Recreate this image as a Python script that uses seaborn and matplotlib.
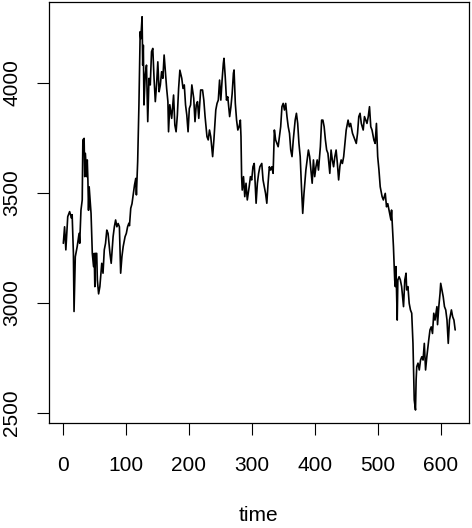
import matplotlib
matplotlib.use("Agg")
import matplotlib.pyplot as plt
import seaborn as sns
import pandas as pd

time = [1, 3, 5, 8, 11, 14, 15, 17, 18, 20, 23, 26, 27, 29, 31, 32, 34, 35, 36, 38,
        39, 40, 41, 42, 45, 47, 49, 50, 51, 52, 54, 55, 57, 59, 62, 64, 66, 68, 70, 72,
        73, 75, 77, 80, 82, 84, 86, 88, 90, 92, 94, 96, 99, 101, 103, 105,
        106, 108, 110, 114, 116, 117, 119, 121, 123, 124, 126, 127, 128, 129, 131, 133, 135, 137,
        139, 141, 143, 145, 147, 149, 151, 153, 155, 157, 159, 161, 163, 165, 167, 168, 170, 173,
        176, 178, 180, 182, 184, 186, 189, 191, 193, 195, 197, 199, 201, 203, 205, 208, 210, 212,
        214, 216, 219, 222, 224, 226, 229, 231, 233, 235, 238, 240, 243, 245, 247, 249, 251, 253,
        255, 256, 258, 260, 262, 265, 267, 269, 271, 272, 274, 276, 278, 280, 282, 283, 284, 285,
        287, 289, 291, 293, 296, 298, 300, 302, 304, 305, 307, 309, 311, 313, 316, 318, 320, 322,
        324, 326, 328, 330, 332, 334, 336, 338, 340, 342, 344, 346, 348, 350, 352, 354, 356, 358,
        360, 362, 364, 366, 369, 371, 373, 375, 377, 379, 381, 383, 386, 388, 390, 392, 394, 396,
        398, 400, 402, 404, 406, 409, 411, 413, 415, 417, 419, 421, 424, 426, 428, 430, 432, 434,
        436, 438, 440, 442, 444, 446, 448, 450, 453, 455, 457, 460, 462, 464, 466, 468, 470, 472,
        474, 477, 479, 481, 483, 485, 487, 489, 491, 494, 496, 498, 500, 502, 504, 507, 509, 512,
        514, 516, 519, 521, 522, 525, 527, 528, 529, 531, 532, 534, 536, 538, 541, 543, 545, 546,
        548, 550, 552, 554, 556, 558, 560, 561, 562, 564, 566, 568, 570, 572, 574, 576, 578, 581,
        583, 585, 587, 589, 591, 594, 595, 597, 599, 600, 602, 604, 606, 608, 610, 612, 614, 617,
        619, 621, 623]

value = [3270, 3345, 3240, 3391, 3414, 3384, 3400, 3224, 2960, 3209, 3255, 3315, 3270, 3421, 3467, 3740, 3747, 3573, 3679, 3573,
         3649, 3558, 3420, 3527, 3406, 3224, 3164, 3224, 3073, 3224, 3224, 3103, 3040, 3073, 3179, 3134, 3240, 3270, 3330, 3315,
         3285, 3224, 3179, 3300, 3345, 3376, 3345, 3360, 3345, 3134, 3209, 3255, 3300, 3315, 3345, 3361,
         3350, 3429, 3450, 3535, 3565, 3490, 3641, 3899, 4232, 4200, 4300, 4080, 4170, 3899, 4035, 4080, 3823, 4020,
         3990, 4141, 4156, 4020, 3914, 3990, 4095, 3959, 3990, 4050, 4020, 4126, 4050, 3974, 3914, 3777, 3900, 3838,
         3944, 3808, 3777, 3853, 3974, 4057, 4020, 3974, 3990, 3899, 3853, 3777, 3883, 3899, 3990, 3929, 3823, 3899,
         3914, 3838, 3967, 3967, 3921, 3846, 3755, 3740, 3785, 3755, 3664, 3740, 3876, 3906, 3921, 4012, 3921, 4012,
         4088, 4111, 4027, 3921, 3936, 3846, 3890, 3951, 4043, 4058, 3906, 3830, 3785, 3800, 3830, 3755, 3573, 3512,
         3573, 3482, 3543, 3467, 3527, 3573, 3558, 3618, 3633, 3573, 3452, 3543, 3588, 3618, 3633, 3558, 3527, 3497,
         3452, 3543, 3618, 3603, 3618, 3588, 3785, 3740, 3724, 3709, 3755, 3800, 3891, 3906, 3876, 3906, 3846, 3800,
         3770, 3694, 3664, 3740, 3830, 3861, 3815, 3724, 3664, 3527, 3406, 3497, 3603, 3649, 3694, 3664, 3603, 3543,
         3649, 3573, 3618, 3649, 3603, 3709, 3830, 3830, 3800, 3740, 3694, 3679, 3588, 3694, 3649, 3618, 3664, 3694,
         3633, 3558, 3620, 3649, 3633, 3664, 3724, 3785, 3830, 3800, 3815, 3770, 3755, 3740, 3724, 3770, 3846, 3861,
         3815, 3785, 3846, 3830, 3815, 3846, 3891, 3800, 3785, 3739, 3724, 3815, 3664, 3603, 3527, 3482, 3467, 3497,
         3436, 3450, 3406, 3376, 3421, 3255, 3103, 3073, 3164, 2921, 3103, 3118, 3103, 3073, 2982, 3103, 3134, 3058,
         3073, 2997, 2967, 2952, 2815, 2558, 2512, 2649, 2709, 2725, 2694, 2739, 2754, 2739, 2815, 2694, 2754, 2830,
         2876, 2890, 2860, 2952, 2921, 2982, 2900, 2982, 3043, 3088, 3058, 3027, 2982, 2967, 2921, 2815, 2921, 2967,
         2936, 2921, 2876]

x_ticks = [0, 100, 200, 300, 400, 500, 600]
y_ticks = [2500, 3000, 3500, 4000]

df = pd.DataFrame({"time": time, "value": value})

sns.set_theme(style="ticks")
plt.rcParams['font.family'] = ['Liberation Sans', 'DejaVu Sans']

fig = plt.figure(figsize=(4.72, 5.28), dpi=100)
ax = fig.add_axes([0.1032, 0.1989, 0.8904, 0.7973])
sns.lineplot(data=df, x="time", y="value", color="black", linewidth=1.2,
             estimator=None, sort=False, ax=ax)

ax.set_xlim(-22.2, 644.9)
ax.set_ylim(2453, 4367)
ax.set_xticks(x_ticks)
ax.set_yticks(y_ticks)
ax.set_xticklabels([str(t) for t in x_ticks])
ax.set_yticklabels([str(t) for t in y_ticks], rotation=90, va="center")

ax.tick_params(axis="both", direction="out", length=8.6, width=0.8,
               color="black", labelsize=15, labelcolor="black")
ax.tick_params(axis="x", pad=15)
ax.tick_params(axis="y", pad=11)

for s in ax.spines.values():
    s.set_visible(True)
    s.set_color("black")
    s.set_linewidth(0.9)

ax.set_ylabel("")
ax.set_xlabel("time", fontsize=15, color="black")
ax.xaxis.set_label_coords(0.5, -0.197)
ax.xaxis.label.set_va("top")

fig.savefig("out.png", dpi=100)
